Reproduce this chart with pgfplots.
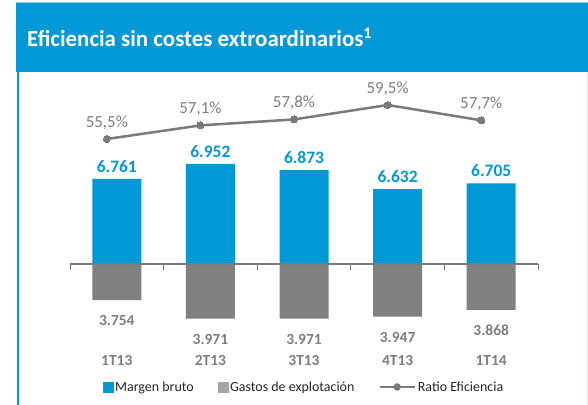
\documentclass[border=0pt]{standalone}
\usepackage{fontspec}
\setmainfont{Carlito}
\usepackage{pgfplots}
\pgfplotsset{compat=1.18}
\usepackage{pgfplotstable}
\definecolor{sanblue}{HTML}{0099D5}
\definecolor{gbar}{HTML}{808080}
\definecolor{gtext}{HTML}{7F7F7F}
\definecolor{gline}{HTML}{7A7A7A}
\definecolor{glegend}{HTML}{A5A5A5}
\definecolor{ltext}{HTML}{262626}
\pgfplotsset{/pgf/number format/assume math mode=true}

\pgfplotstableread{
x margen gastos ratio
0 6761 3754 55.5
1 6952 3971 57.1
2 6873 3971 57.8
3 6632 3947 59.5
4 6705 3868 57.7
}\datatable

\begin{document}
\begin{tikzpicture}
\useasboundingbox (0bp,0bp) rectangle (588bp,405bp);
\fill[white] (0bp,0bp) rectangle (588bp,405bp);
% banner and frame
\fill[sanblue] (16bp,333bp) rectangle (588bp,402bp);
\draw[sanblue!45, line width=0.8bp] (16bp,402.4bp) -- (588bp,402.4bp);
\draw[sanblue, line width=2bp] (18bp,333bp) -- (18bp,0bp);
\draw[sanblue!20, line width=1bp] (587bp,333bp) -- (587bp,0bp);
\node[anchor=base west, text=white, font=\bfseries\fontsize{23}{23}\selectfont, inner sep=0pt] at (27bp,358bp) {Eficiencia sin costes extroardinarios\textsuperscript{1}};

% blue bars (margen bruto)
\begin{axis}[
  at={(70bp,141bp)}, anchor=south west,
  x=93.6bp, y=0.0791bp,
  xmin=-0.5, xmax=4.5, ymin=5685, ymax=7300,
  hide axis, ybar, bar width=49bp,
  /pgf/number format/.cd, use comma, 1000 sep={.},
]
\addplot[fill=sanblue, draw=none, nodes near coords,
  every node near coord/.append style={anchor=base, yshift=6.5bp, inner sep=0pt,
    text=sanblue, font=\bfseries\fontsize{17.5}{17.5}\selectfont}]
  table[x=x, y=margen]{\datatable};
\end{axis}

% gray bars (gastos de explotacion)
\begin{axis}[
  at={(70bp,141bp)}, anchor=north west,
  x=93.6bp, y=0.0848bp,
  xmin=-0.5, xmax=4.5, ymin=-4400, ymax=-3327,
  hide axis, ybar, bar width=49bp,
  /pgf/number format/.cd, use comma, 1000 sep={.},
]
\addplot[fill=gbar, draw=none, point meta=explicit, nodes near coords,
  every node near coord/.append style={anchor=base, yshift=-25.5bp, inner sep=0pt,
    text=gtext, font=\bfseries\fontsize{15.5}{15.5}\selectfont}]
  table[x=x, y expr=-\thisrow{gastos}, meta=gastos]{\datatable};
\end{axis}

% ratio eficiencia
\begin{axis}[
  at={(60bp,261.75bp)}, anchor=south west,
  x=93.6bp, y=8.5bp,
  xmin=-0.5, xmax=4.5, ymin=55, ymax=60,
  hide axis, clip=false,
  /pgf/number format/.cd, use comma, fixed, fixed zerofill, precision=1,
]
\addplot[color=gline, line width=2.5bp, mark=*, mark size=3.5bp,
  mark options={fill=gline, draw=gline, line width=0pt},
  point meta=y,
  nodes near coords={\pgfmathprintnumber{\pgfplotspointmeta}\%},
  every node near coord/.append style={anchor=base, yshift=11.5bp, inner sep=0pt,
    text=gtext, font=\fontsize{17}{17}\selectfont}]
  table[x=x, y=ratio]{\datatable};
\end{axis}

% baseline, ticks, categories, legend
\begin{axis}[
  at={(70bp,141bp)}, anchor=south west,
  x=93.6bp, y=1bp,
  xmin=-0.5, xmax=4.5, ymin=0, ymax=10,
  axis x line=bottom, axis y line=none,
  axis line style={-, draw=gline, line width=1.5bp},
  xtick={-0.5,0.5,1.5,2.5,3.5,4.5}, xticklabels={},
  tick align=outside, major tick length=6bp,
  tick style={draw=gline, line width=1bp},
  extra x ticks={0,1,2,3,4},
  extra x tick labels={1T13,2T13,3T13,4T13,1T14},
  extra x tick style={major tick length=0pt, tick style={draw=none},
    xticklabel style={anchor=base, yshift=-101bp, inner sep=0pt,
      text=gtext, font=\bfseries\fontsize{15.5}{15.5}\selectfont}},
  legend style={at={(0.5,-12.3)}, anchor=center, draw=none, fill=none,
    font=\fontsize{14}{14}\selectfont, text=ltext,
    /tikz/every even column/.append style={column sep=22bp}},
  legend columns=3,
]
\addlegendimage{legend image code/.code={\fill[sanblue] (0bp,-5bp) rectangle (10bp,5bp);}}
\addlegendentry{Margen bruto}
\addlegendimage{legend image code/.code={\fill[glegend] (0bp,-5bp) rectangle (10bp,5bp);}}
\addlegendentry{Gastos de explotación}
\addlegendimage{legend image code/.code={\draw[gline, line width=2.5bp] (0bp,0bp) -- (35bp,0bp); \fill[gline] (17.5bp,0bp) circle (3.5bp);}}
\addlegendentry{Ratio Eficiencia}
\end{axis}
\end{tikzpicture}
\end{document}
